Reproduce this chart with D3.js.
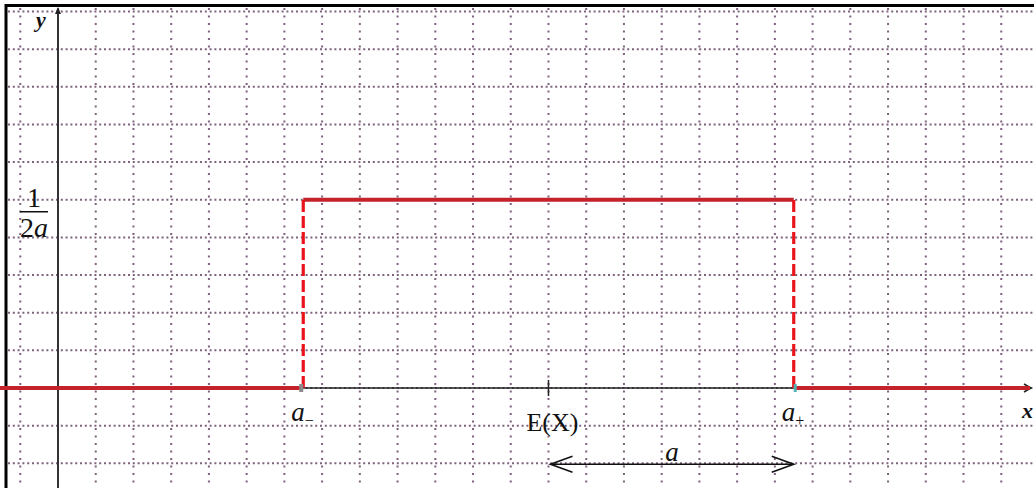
<!DOCTYPE html>
<html>
<head>
<meta charset="utf-8">
<script src="https://cdn.jsdelivr.net/npm/d3@7"></script>
<style>
  html, body { margin: 0; padding: 0; background: #fff; }
  svg { display: block; }
  text { font-family: "Liberation Serif", "Times New Roman", serif; fill: #111; }
</style>
</head>
<body>
<svg id="chart" width="1034" height="488"></svg>
<script>
// ---- data (grid units) ----
const gridX = d3.range(-1, 27);          // vertical grid lines
const gridY = d3.range(-2, 11);          // horizontal grid lines
const bounds = [6.5, 19.5];              // a−, a+
const meanX = 13;                        // E(X)
const density = 5;                       // 1/(2a)
const boundLabels = ["−", "+"];

const W = 1034, H = 488;
const svg = d3.select("#chart");
const x = d3.scaleLinear().domain([0, 26]).range([58, 58 + 26 * 37.73]);
const y = d3.scaleLinear().domain([0, 10]).range([388, 388 - 10 * 37.65]);

// grid
const grid = svg.append("g").attr("stroke", "#7e627e").attr("stroke-width", 2);
grid.selectAll("line.v").data(gridX).join("line")
  .attr("x1", d => x(d)).attr("x2", d => x(d))
  .attr("y1", 8).attr("y2", H)
  .attr("stroke-dasharray", "2 5.5");
grid.selectAll("line.h").data(gridY).join("line")
  .attr("y1", d => y(d)).attr("y2", d => y(d))
  .attr("x1", 8).attr("x2", W)
  .attr("stroke-dasharray", "2 2.8");

// border
svg.append("rect").attr("x", 6).attr("y", 5.5).attr("width", W + 10).attr("height", H + 10)
  .attr("fill", "none").attr("stroke", "#000").attr("stroke-width", 3);

// axes
svg.append("line").attr("x1", x(0)).attr("x2", x(0)).attr("y1", 9).attr("y2", H)
  .attr("stroke", "#333").attr("stroke-width", 2);
svg.append("path").attr("d", `M${x(0)-3},14 L${x(0)},7 L${x(0)+3},14 Z`).attr("fill", "#222");
svg.append("line").attr("x1", 0).attr("x2", 1030).attr("y1", y(0)).attr("y2", y(0))
  .attr("stroke", "#222").attr("stroke-width", 1.5);
svg.append("path").attr("d", `M1024,${y(0)-4} L1031,${y(0)} L1024,${y(0)+4}`)
  .attr("fill", "none").attr("stroke", "#222").attr("stroke-width", 1.5);

// E(X) tick
svg.append("line").attr("x1", x(meanX)).attr("x2", x(meanX))
  .attr("y1", y(0) - 8).attr("y2", y(0) + 8).attr("stroke", "#222").attr("stroke-width", 1.5);

// density: solid segments
const red = "#c4232b";
const line = d3.line().x(d => x(d[0])).y(d => y(d[1]));
const solid = [
  [[x.invert(0), 0], [bounds[0] - 0.05, 0]],
  [[bounds[0], density], [bounds[1], density]],
  [[bounds[1] + 0.05, 0], [x.invert(1030), 0]]
];
svg.append("g").selectAll("path").data(solid).join("path")
  .attr("d", line).attr("fill", "none").attr("stroke", red).attr("stroke-width", 4);

// dashed verticals
svg.append("g").selectAll("path").data(bounds).join("path")
  .attr("d", d => line([[d, 0], [d, density]]))
  .attr("fill", "none").attr("stroke", "#e8141c").attr("stroke-width", 3.2)
  .attr("stroke-dasharray", "12 4");

// small end markers
svg.append("rect").attr("x", x(bounds[0]) - 4).attr("y", y(0) - 4).attr("width", 4).attr("height", 8).attr("fill", "#8a8a8a");
svg.append("rect").attr("x", x(bounds[1])).attr("y", y(0) - 4).attr("width", 3).attr("height", 8).attr("fill", "#55b0b0");

// labels
svg.append("text").attr("x", 36).attr("y", 27).attr("font-size", 22)
  .attr("font-weight", "bold").attr("font-style", "italic").text("y");
svg.append("text").attr("x", 1022).attr("y", 418).attr("font-size", 22)
  .attr("font-weight", "bold").attr("font-style", "italic").text("x");

// fraction 1/(2a)
svg.append("text").attr("x", 34).attr("y", y(density) + 7).attr("font-size", 28)
  .attr("text-anchor", "middle").text("1");
svg.append("line").attr("x1", 20).attr("x2", 48).attr("y1", y(density) + 12).attr("y2", y(density) + 12)
  .attr("stroke", "#111").attr("stroke-width", 1.5);
const frac = svg.append("text").attr("x", 20).attr("y", y(density) + 37).attr("font-size", 28);
frac.append("tspan").text("2");
frac.append("tspan").attr("font-style", "italic").text("a");

// a−, a+
bounds.forEach((b, i) => {
  const t = svg.append("text").attr("x", x(b) - 12).attr("y", y(0) + 33).attr("font-size", 27);
  t.append("tspan").attr("font-style", "italic").text("a");
  t.append("tspan").attr("font-size", 16).attr("dy", 5).text(boundLabels[i]);
});

// E(X)
svg.append("text").attr("x", x(meanX) + 4).attr("y", y(0) + 43).attr("font-size", 26)
  .attr("text-anchor", "middle").text("E(X)");

// double arrow a
const ay = y(-2) + 1;
svg.append("line").attr("x1", x(meanX) + 2).attr("x2", x(bounds[1])).attr("y1", ay).attr("y2", ay)
  .attr("stroke", "#111").attr("stroke-width", 1.6);
svg.append("path").attr("d", `M${x(meanX)+24},${ay-8} L${x(meanX)+2},${ay} L${x(meanX)+24},${ay+8}`)
  .attr("fill", "none").attr("stroke", "#111").attr("stroke-width", 1.6);
svg.append("path").attr("d", `M${x(bounds[1])-22},${ay-8} L${x(bounds[1])},${ay} L${x(bounds[1])-22},${ay+8}`)
  .attr("fill", "none").attr("stroke", "#111").attr("stroke-width", 1.6);
svg.append("text").attr("x", (x(meanX) + x(bounds[1])) / 2 + 1).attr("y", ay - 3).attr("font-size", 27)
  .attr("font-style", "italic").attr("text-anchor", "middle").text("a");
</script>
</body>
</html>
